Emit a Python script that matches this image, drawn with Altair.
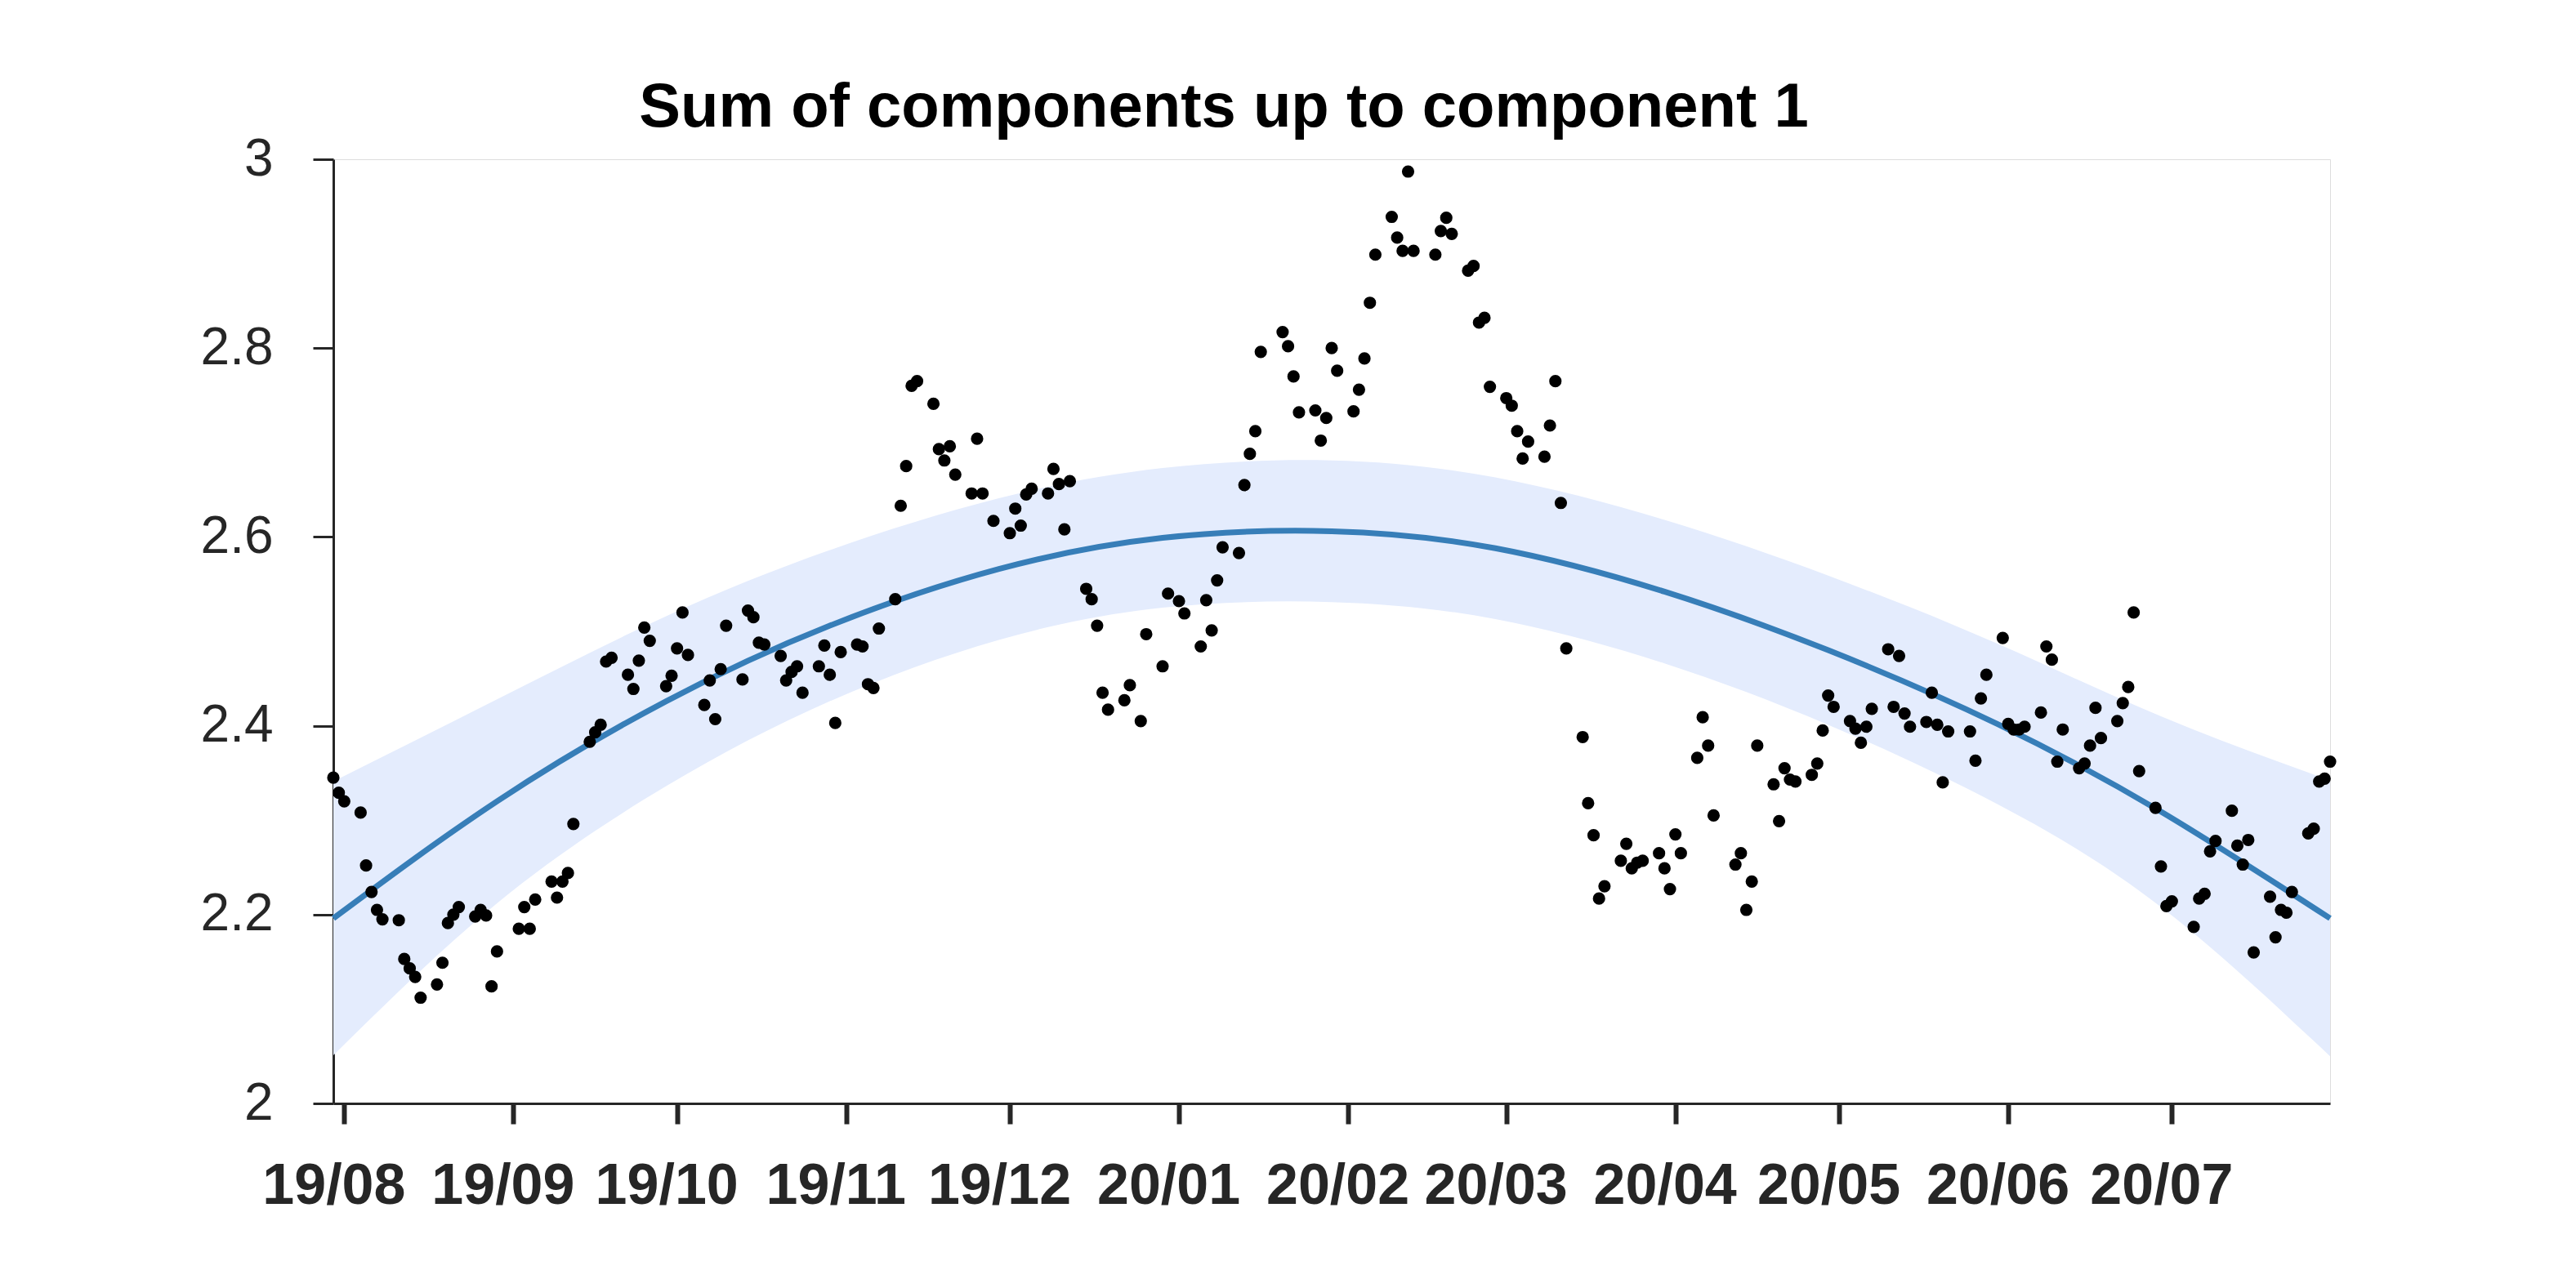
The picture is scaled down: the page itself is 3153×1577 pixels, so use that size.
import altair as alt
import pandas as pd

START_DATE = "2019-07-30"
END_DATE = "2020-07-30"
TITLE = "Sum of components up to component 1"

MONTH_TICKS = ["2019-08-01", "2019-09-01", "2019-10-01", "2019-11-01", "2019-12-01",
               "2020-01-01", "2020-02-01", "2020-03-01", "2020-04-01", "2020-05-01",
               "2020-06-01", "2020-07-01"]
Y_TICKS = [2, 2.2, 2.4, 2.6, 2.8, 3]

# observations: day offsets from START_DATE and values
DAYS_1 = [0, 1, 2, 5, 6, 7, 8, 9, 12, 13, 14, 15, 16, 19, 20, 21, 22, 23, 26, 27, 28, 29, 30,
          34, 35, 36, 37, 40, 41, 42, 43, 44, 47, 48, 49, 50, 51]
VALS_1 = [2.345, 2.329, 2.320, 2.308, 2.252, 2.224, 2.205, 2.195, 2.194, 2.153, 2.143, 2.134,
          2.112, 2.126, 2.149, 2.191, 2.200, 2.208, 2.198, 2.205, 2.199, 2.124, 2.161, 2.185,
          2.208, 2.185, 2.216, 2.235, 2.218, 2.235, 2.244, 2.296, 2.383, 2.393, 2.401, 2.468, 2.472]

DAYS_2 = [54, 55, 56, 57, 58, 61, 62, 63, 64, 65, 68, 69, 70, 71, 72, 75, 76, 77, 78, 79,
          82, 83, 84, 85, 86, 89, 90, 91, 92, 93, 96, 97, 98, 99, 100, 103, 104]
VALS_2 = [2.454, 2.439, 2.469, 2.504, 2.490, 2.442, 2.453, 2.482, 2.520, 2.475, 2.422, 2.448,
          2.407, 2.460, 2.506, 2.449, 2.522, 2.515, 2.488, 2.486, 2.474, 2.448, 2.457, 2.463,
          2.435, 2.463, 2.485, 2.454, 2.403, 2.478, 2.486, 2.484, 2.444, 2.440, 2.503, 2.534, 2.633]

DAYS_3 = [105, 106, 107, 110, 111, 112, 113, 114, 117, 118, 119, 121, 124, 125, 126, 127, 128,
          131, 132, 133, 134, 135, 138, 139, 140, 141, 142, 145, 146, 148, 149, 152, 153, 155, 156]
VALS_3 = [2.675, 2.760, 2.765, 2.741, 2.693, 2.681, 2.696, 2.666, 2.646, 2.704, 2.646, 2.617,
          2.604, 2.630, 2.612, 2.645, 2.651, 2.646, 2.672, 2.656, 2.608, 2.659, 2.545, 2.534,
          2.506, 2.435, 2.417, 2.427, 2.443, 2.405, 2.497, 2.463, 2.540, 2.532, 2.519]

DAYS_4 = [159, 160, 161, 162, 163, 166, 167, 168, 169, 170, 174, 175, 176, 177, 180, 181, 182,
          183, 184, 187, 188, 189, 190, 191, 194, 195, 196, 197, 198, 202, 203, 204, 205, 208, 209]
VALS_4 = [2.484, 2.533, 2.501, 2.554, 2.589, 2.583, 2.655, 2.688, 2.712, 2.796, 2.817, 2.802,
          2.770, 2.732, 2.734, 2.702, 2.726, 2.800, 2.776, 2.733, 2.756, 2.789, 2.848, 2.899,
          2.939, 2.917, 2.903, 2.987, 2.903, 2.899, 2.924, 2.938, 2.921, 2.882, 2.887]

DAYS_5 = [210, 211, 212, 215, 216, 217, 218, 219, 222, 223, 224, 225, 226, 229, 230, 231, 232,
          233, 236, 237, 238, 239, 240, 243, 244, 245, 246, 247, 250, 251, 252, 253, 257, 258,
          259, 260, 261]
VALS_5 = [2.827, 2.832, 2.759, 2.747, 2.739, 2.712, 2.683, 2.701, 2.685, 2.718, 2.765, 2.636,
          2.482, 2.388, 2.318, 2.284, 2.217, 2.230, 2.257, 2.275, 2.249, 2.255, 2.257, 2.265,
          2.249, 2.227, 2.285, 2.265, 2.366, 2.409, 2.379, 2.305, 2.253, 2.265, 2.205, 2.235, 2.379]

DAYS_6 = [264, 265, 266, 267, 268, 271, 272, 273, 274, 275, 278, 279, 280, 281, 282, 285, 286,
          287, 288, 289, 292, 293, 294, 295, 296, 300, 301, 302, 303, 306, 307, 308, 309, 310,
          313, 314, 315]
VALS_6 = [2.338, 2.299, 2.355, 2.343, 2.341, 2.348, 2.360, 2.395, 2.432, 2.420, 2.405, 2.397,
          2.382, 2.399, 2.418, 2.481, 2.420, 2.474, 2.413, 2.399, 2.404, 2.435, 2.401, 2.340,
          2.394, 2.394, 2.363, 2.429, 2.454, 2.493, 2.402, 2.396, 2.396, 2.399, 2.414, 2.484, 2.470]

DAYS_7 = [316, 317, 320, 321, 322, 323, 324, 327, 328, 329, 330, 331, 334, 335, 336, 337, 341,
          342, 343, 344, 345, 348, 349, 350, 351, 352, 355, 356, 357, 358, 359, 362, 363, 364,
          365, 366]
VALS_7 = [2.362, 2.396, 2.355, 2.360, 2.379, 2.419, 2.387, 2.405, 2.424, 2.441, 2.520, 2.352,
          2.313, 2.251, 2.209, 2.214, 2.187, 2.217, 2.222, 2.267, 2.278, 2.310, 2.273, 2.253,
          2.279, 2.160, 2.219, 2.176, 2.205, 2.202, 2.224, 2.286, 2.291, 2.341, 2.344, 2.362]

# fitted component curve and its band, read at evenly spaced day offsets
FIT_DAYS = [0, 30, 61, 91, 122, 152, 183, 213, 244, 274, 305, 335, 366]
FIT_MID = [2.196, 2.320, 2.426, 2.506, 2.566, 2.599, 2.606, 2.588, 2.542, 2.480, 2.402,
           2.309, 2.196]
FIT_UPPER = [2.341, 2.428, 2.516, 2.586, 2.641, 2.673, 2.681, 2.663, 2.618, 2.559, 2.487,
             2.410, 2.342]
FIT_LOWER = [2.051, 2.212, 2.336, 2.426, 2.491, 2.525, 2.531, 2.513, 2.466, 2.401, 2.317,
             2.208, 2.050]

start = pd.Timestamp(START_DATE)
obs_days = DAYS_1 + DAYS_2 + DAYS_3 + DAYS_4 + DAYS_5 + DAYS_6 + DAYS_7
obs_vals = VALS_1 + VALS_2 + VALS_3 + VALS_4 + VALS_5 + VALS_6 + VALS_7
df_obs = pd.DataFrame({"date": start + pd.to_timedelta(obs_days, unit="D"), "value": obs_vals})
df_fit = pd.DataFrame({"date": start + pd.to_timedelta(FIT_DAYS, unit="D"),
                       "mid": FIT_MID, "upper": FIT_UPPER, "lower": FIT_LOWER})


def dt(s):
    return alt.DateTime(year=int(s[:4]), month=int(s[5:7]), date=int(s[8:10]))


AXIS_COLOR = "#262626"
FONT = "Liberation Sans"

x_enc = alt.X(
    "date:T",
    scale=alt.Scale(domain=[dt(START_DATE), dt(END_DATE)]),
    axis=alt.Axis(values=[dt(s) for s in MONTH_TICKS], format="%y/%m", grid=False,
                  labelFont=FONT, labelFontSize=70, labelFontWeight="bold",
                  labelColor=AXIS_COLOR, labelPadding=42, labelOffset=-13, tickSize=25,
                  tickWidth=6, tickColor=AXIS_COLOR, domainColor=AXIS_COLOR, domainWidth=3,
                  labelOverlap=False, labelFlush=False),
    title=None,
)

y_scale = alt.Scale(domain=[2, 3], nice=False, zero=False)
y_axis = alt.Axis(values=Y_TICKS, format=".1~f", grid=False, labelFont=FONT,
                  labelFontSize=64, labelColor=AXIS_COLOR, labelPadding=49, tickSize=25,
                  tickWidth=3, tickColor=AXIS_COLOR, domainColor=AXIS_COLOR, domainWidth=3,
                  labelFlush=False)

band = alt.Chart(df_fit).mark_area(color="#e4ecfd", opacity=1, interpolate="natural").encode(
    x=x_enc,
    y=alt.Y("lower:Q", scale=y_scale, axis=y_axis, title=None),
    y2="upper:Q",
)

line = alt.Chart(df_fit).mark_line(color="#377eb8", strokeWidth=7, interpolate="natural").encode(
    x=x_enc,
    y=alt.Y("mid:Q", scale=y_scale, axis=y_axis, title=None),
)

points = alt.Chart(df_obs).mark_circle(color="#000000", opacity=1, size=230).encode(
    x=x_enc,
    y=alt.Y("value:Q", scale=y_scale, axis=y_axis, title=None),
)

chart = alt.layer(band, line, points).properties(
    width=2444,
    height=1156,
    title=alt.TitleParams(text=TITLE, font=FONT, fontSize=76, fontWeight="bold",
                          color="#000000", anchor="middle", frame="group", dx=-132,
                          offset=-68, baseline="alphabetic"),
    autosize=alt.AutoSizeParams(type="none"),
    padding={"left": 400, "top": 187, "right": 200, "bottom": 150},
).configure_view(stroke="white", strokeOpacity=0, strokeWidth=0).configure(background="white")

chart.save("out.html", embed_options={"renderer": "svg", "actions": False})
